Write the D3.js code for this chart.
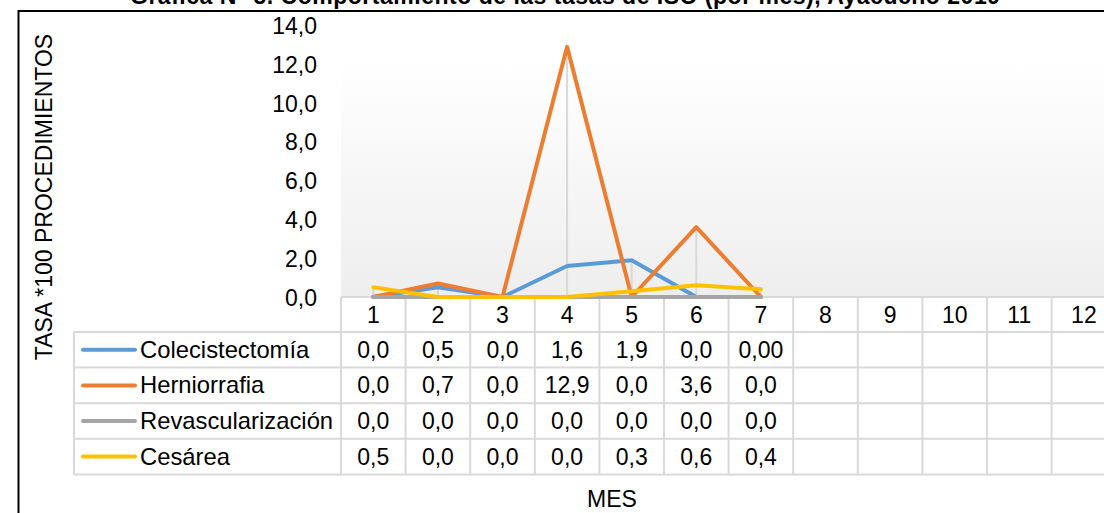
<!DOCTYPE html>
<html><head><meta charset="utf-8">
<script src="https://cdn.jsdelivr.net/npm/d3@7"></script>
<style>body{margin:0;background:#fff;}svg{display:block;font-family:"Liberation Sans",Arial,sans-serif;}</style>
</head><body><svg id="c" width="1104" height="513"></svg>
<script>
const titleText = "Gráfica N° 5. Comportamiento de las tasas de ISO (por mes), Ayacucho 2019";
const yTitle = "TASA *100 PROCEDIMIENTOS";
const xTitle = "MES";
const months = ["1","2","3","4","5","6","7","8","9","10","11","12"];
const yTicks = [0,2,4,6,8,10,12,14];
const seriesNames = ["Colecistectomía","Herniorrafia","Revascularización","Cesárea"];
const seriesColors = ["#5B9BD5","#ED7D31","#A5A5A5","#FFC000"];
const colecistectomia = [0.0,0.5,0.0,1.6,1.9,0.0,0.0];
const herniorrafia = [0.0,0.7,0.0,12.9,0.0,3.6,0.0];
const revascularizacion = [0.0,0.0,0.0,0.0,0.0,0.0,0.0];
const cesarea = [0.5,0.0,0.0,0.0,0.3,0.6,0.4];
const colecDecimals = [1,1,1,1,1,1,2];
const seriesValues = [colecistectomia, herniorrafia, revascularizacion, cesarea];

const loc = d3.formatLocale({decimal:",",thousands:".",grouping:[3],currency:["",""]});
const fmt = d => loc.format(".1f")(d);
const FS = 23;

const svg = d3.select("#c");
const plotL = 341, colW = 64.6, plotR = plotL + colW*months.length;
const y0 = 297, yTop = 25.5;
const x = d3.scaleBand().domain(months).range([plotL, plotR]).padding(0);
const y = d3.scaleLinear().domain([0,14]).range([y0, yTop]);

// outer frame
svg.append("rect").attr("x",18.5).attr("y",11).attr("width",1200).attr("height",600)
  .attr("fill","none").attr("stroke","#000").attr("stroke-width",2);

// title (clipped at top, as in the reference)
svg.append("text").attr("x",130).attr("y",3.5).attr("text-anchor","start")
  .attr("textLength",870).attr("lengthAdjust","spacing")
  .attr("font-weight","bold").attr("font-size",FS).attr("fill","#000").text(titleText);

// plot bg gradient
const defs = svg.append("defs");
const g = defs.append("linearGradient").attr("id","bg").attr("x1",0).attr("y1",0).attr("x2",0).attr("y2",1);
g.append("stop").attr("offset","0%").attr("stop-color","#ffffff");
g.append("stop").attr("offset","100%").attr("stop-color","#eeeeee");
svg.append("rect").attr("x",plotL).attr("y",yTop+35).attr("width",plotR-plotL).attr("height",y0-yTop-35).attr("fill","url(#bg)");

// y tick labels
const yAxis = d3.axisLeft(y).tickValues(yTicks).tickFormat(fmt).tickSize(0).tickPadding(0);
const ya = svg.append("g").attr("transform","translate(317,0)").call(yAxis);
ya.select(".domain").remove();
ya.selectAll("text").attr("font-size",FS).attr("font-family","Liberation Sans, Arial, sans-serif")
  .attr("fill","#000").attr("dy",null).attr("y",8);

// y title
svg.append("text").attr("transform","translate(52,197) rotate(-90)").attr("text-anchor","middle")
  .attr("font-size",FS).attr("fill","#000").text(yTitle);

// drop lines
const nPts = colecistectomia.length;
for (let i=0;i<nPts;i++){
  const mx = d3.max(seriesValues, s=>s[i]);
  const cx = x(months[i]) + x.bandwidth()/2;
  if (mx>0) svg.append("line").attr("x1",cx).attr("x2",cx).attr("y1",y(mx)).attr("y2",y0)
    .attr("stroke","#d9d9d9").attr("stroke-width",2);
}

// table
const rowTop = 298, headH = 34, rowH = 35.6, legL = 74;
const grid = "#d9d9d9";
const tg = svg.append("g");
tg.append("line").attr("x1",plotL).attr("x2",plotR).attr("y1",y0).attr("y2",y0).attr("stroke",grid).attr("stroke-width",2);
for (let r=0;r<=seriesNames.length;r++){
  const yy = rowTop+headH+r*rowH;
  tg.append("line").attr("x1",legL).attr("x2",plotR).attr("y1",yy).attr("y2",yy).attr("stroke",grid).attr("stroke-width",2);
}
tg.append("line").attr("x1",legL).attr("x2",legL).attr("y1",rowTop+headH).attr("y2",rowTop+headH+4*rowH).attr("stroke",grid).attr("stroke-width",2);
for (let c=0;c<=months.length;c++){
  const xx = plotL + c*colW;
  tg.append("line").attr("x1",xx).attr("x2",xx).attr("y1",y0).attr("y2",rowTop+headH+4*rowH).attr("stroke",grid).attr("stroke-width",2);
}
months.forEach(m=>{
  tg.append("text").attr("x",x(m)+x.bandwidth()/2).attr("y",rowTop+headH/2+8).attr("text-anchor","middle")
    .attr("font-size",FS).attr("fill","#000").text(m);
});
seriesNames.forEach((name,r)=>{
  const cy = rowTop+headH+r*rowH+rowH/2;
  tg.append("line").attr("x1",83).attr("x2",135).attr("y1",cy).attr("y2",cy)
    .attr("stroke",seriesColors[r]).attr("stroke-width",4).attr("stroke-linecap","round");
  tg.append("text").attr("x",140).attr("y",cy+8).attr("font-size",23.8).attr("fill","#000").text(name);
  seriesValues[r].forEach((v,i)=>{
    const lbl = r===0 ? loc.format("."+colecDecimals[i]+"f")(v) : fmt(v);
    tg.append("text").attr("x",x(months[i])+x.bandwidth()/2).attr("y",cy+8).attr("text-anchor","middle")
      .attr("font-size",FS).attr("fill","#000").text(lbl);
  });
});

// lines
const line = d3.line().x((d,i)=>x(months[i])+x.bandwidth()/2).y(d=>y(d));
seriesValues.forEach((vals,r)=>{
  svg.append("path").datum(vals).attr("d",line).attr("fill","none")
    .attr("stroke",seriesColors[r]).attr("stroke-width",4).attr("stroke-linejoin","round").attr("stroke-linecap","round");
});

// x title
svg.append("text").attr("x",612).attr("y",507).attr("text-anchor","middle").attr("font-size",FS).attr("fill","#000").text(xTitle);
</script></body></html>
